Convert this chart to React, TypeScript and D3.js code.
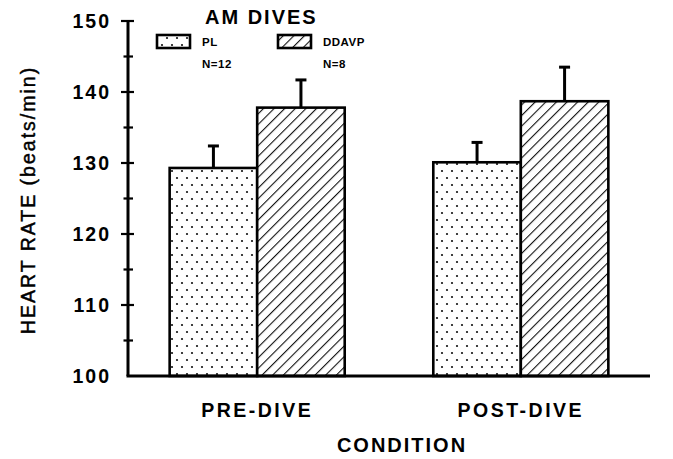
import React from "react";
import * as d3 from "d3";

const conditions = ["PRE-DIVE", "POST-DIVE"];
const groups = ["PL", "DDAVP"];
const groupN = ["N=12", "N=8"];
const plMeans = [129.3, 130.1];
const plErr = [3.1, 2.8];
const ddavpMeans = [137.8, 138.7];
const ddavpErr = [3.9, 4.8];
const yTicks = [100, 110, 120, 130, 140, 150];
const yMinorTicks = [105, 115, 125, 135, 145];

const W = 673;
const H = 459;
const left = 128;
const right = 650;
const top = 21;
const bottom = 376;
const FONT = "'Liberation Sans', Arial, Helvetica, sans-serif";

export default function App() {
  const y = d3.scaleLinear().domain([100, 150]).range([bottom, top]);
  const x0 = d3
    .scaleBand<string>()
    .domain(conditions)
    .range([left, right])
    .paddingInner(0.336)
    .paddingOuter(0.158);
  const x1 = d3.scaleBand<string>().domain(groups).range([0, x0.bandwidth()]).padding(0);

  const series = [
    { key: "PL", means: plMeans, errs: plErr, fill: "url(#dots)" },
    { key: "DDAVP", means: ddavpMeans, errs: ddavpErr, fill: "url(#hatch)" },
  ];

  return (
    <svg
      width={W}
      height={H}
      style={{ position: "absolute", left: 0, top: 0, background: "#fff" }}
      fontFamily={FONT}
    >
      <defs>
        <pattern id="dots" width="10" height="14" patternUnits="userSpaceOnUse">
          <rect width="10" height="14" fill="#fff" />
          <circle cx="2" cy="3" r="1.1" fill="#111" />
          <circle cx="7" cy="10" r="1.1" fill="#111" />
        </pattern>
        <pattern
          id="hatch"
          width="7.5"
          height="7.5"
          patternUnits="userSpaceOnUse"
          patternTransform="rotate(45)"
        >
          <rect width="7.5" height="7.5" fill="#fff" />
          <line x1="0" y1="0" x2="0" y2="7.5" stroke="#111" strokeWidth="2.2" />
        </pattern>
      </defs>

      {/* bars */}
      {series.map((s) =>
        conditions.map((c, i) => {
          const bx = (x0(c) ?? 0) + (x1(s.key) ?? 0);
          const bw = x1.bandwidth();
          const by = y(s.means[i]);
          const ey = y(s.means[i] + s.errs[i]);
          const cx = bx + bw / 2;
          return (
            <g key={s.key + c}>
              <line x1={cx} x2={cx} y1={by} y2={ey} stroke="#000" strokeWidth={3} />
              <line x1={cx - 5.5} x2={cx + 5.5} y1={ey} y2={ey} stroke="#000" strokeWidth={3} />
              <rect
                x={bx}
                y={by}
                width={bw}
                height={bottom - by}
                fill={s.fill}
                stroke="#000"
                strokeWidth={2.6}
              />
            </g>
          );
        })
      )}

      {/* axes */}
      <line x1={left} x2={left} y1={top} y2={bottom} stroke="#000" strokeWidth={3} />
      <line x1={left - 1.5} x2={right} y1={bottom} y2={bottom} stroke="#000" strokeWidth={3} />
      {yTicks.map((t) => (
        <g key={t}>
          {t > 100 && (
            <line x1={left - 7} x2={left + 6} y1={y(t)} y2={y(t)} stroke="#000" strokeWidth={2.2} />
          )}
          <text
            x={111}
            y={y(t)}
            dy="0.36em"
            textAnchor="end"
            fontSize={19.5}
            fontWeight={700}
            letterSpacing={2}
          >
            {t}
          </text>
        </g>
      ))}
      {yMinorTicks.map((t) => (
        <line key={t} x1={left - 4.5} x2={left + 5} y1={y(t)} y2={y(t)} stroke="#000" strokeWidth={2.2} />
      ))}

      {/* category labels */}
      {conditions.map((c) => (
        <text
          key={c}
          x={(x0(c) ?? 0) + x0.bandwidth() / 2}
          y={410}
          dy="0.36em"
          textAnchor="middle"
          fontSize={19.5}
          fontWeight={700}
          letterSpacing={2.5}
        >
          {c}
        </text>
      ))}
      <text
        x={402}
        y={445}
        dy="0.36em"
        textAnchor="middle"
        fontSize={20}
        fontWeight={700}
        letterSpacing={2}
      >
        CONDITION
      </text>
      <text
        transform={`translate(28,${200}) rotate(-90)`}
        textAnchor="middle"
        dy="0.36em"
        fontSize={19.5}
        letterSpacing={2}
        stroke="#000"
        strokeWidth={0.45}
      >
        HEART RATE (beats/min)
      </text>

      {/* legend */}
      <text x={205} y={17} dy="0.36em" fontSize={20} fontWeight={700} letterSpacing={2}>
        AM DIVES
      </text>
      {series.map((s, i) => {
        const lx = i === 0 ? 157 : 278;
        return (
          <g key={s.key}>
            <rect x={lx} y={35} width={33} height={13} fill={s.fill} stroke="#000" strokeWidth={2.6} />
            <text x={lx + 45} y={42} dy="0.36em" fontSize={11.5} fontWeight={700} letterSpacing={0.5}>
              {groups[i]}
            </text>
            <text x={lx + 45} y={64} dy="0.36em" fontSize={11.5} fontWeight={700} letterSpacing={0.5}>
              {groupN[i]}
            </text>
          </g>
        );
      })}
    </svg>
  );
}
